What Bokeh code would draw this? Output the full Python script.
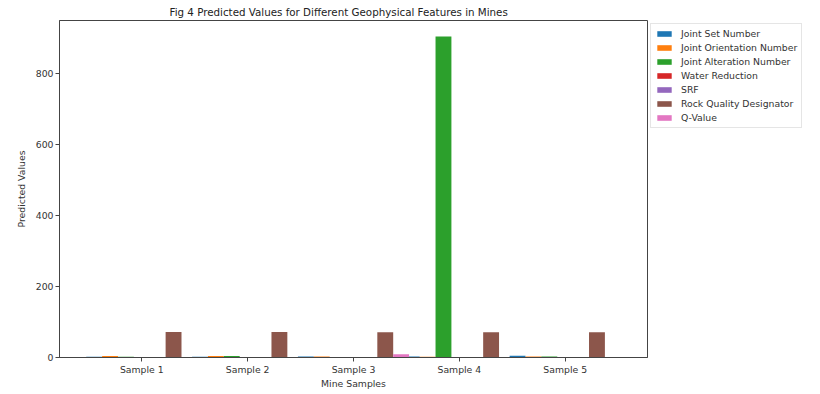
from bokeh.plotting import figure
from bokeh.models import (ColumnDataSource, FactorRange, Range1d, Legend, LegendItem)
from bokeh.transform import dodge
from bokeh.embed import file_html
from bokeh.resources import INLINE

samples = ["Sample 1", "Sample 2", "Sample 3", "Sample 4", "Sample 5"]
joint_set_number = [2.0, 2.0, 3.0, 3.0, 5.0]
joint_orientation_number = [4.0, 4.0, 3.0, 2.0, 3.0]
joint_alteration_number = [2.0, 4.0, 1.5, 903.0, 3.0]
water_reduction = [0.5, 0.5, 1.5, 1.0, 0.5]
srf = [1.0, 1.5, 1.5, 1.5, 1.5]
rock_quality_designator = [72.0, 72.0, 71.0, 71.0, 71.0]
q_value = [1.0, 1.5, 9.0, 1.5, 0.3]

series_names = ["Joint Set Number", "Joint Orientation Number", "Joint Alteration Number",
                "Water Reduction", "SRF", "Rock Quality Designator", "Q-Value"]
series_values = [joint_set_number, joint_orientation_number, joint_alteration_number,
                 water_reduction, srf, rock_quality_designator, q_value]
colors = ["#1f77b4", "#ff7f0e", "#2ca02c", "#d62728", "#9467bd", "#8c564b", "#e377c2"]

bar_w = 0.15
ymax = max(max(v) for v in series_values) * 1.05

data = {"sample": samples}
for i, v in enumerate(series_values):
    data[f"s{i}"] = v
source = ColumnDataSource(data)

FONT = "DejaVu Sans"
p = figure(x_range=FactorRange(*samples, range_padding=0.111),
           y_range=Range1d(0, ymax),
           frame_width=588, frame_height=337,
           output_backend="svg", toolbar_location=None,
           title="Fig 4 Predicted Values for Different Geophysical Features in Mines",
           min_border_left=59, min_border_top=0, min_border_bottom=0, min_border_right=0)

items = []
for i, (name, col) in enumerate(zip(series_names, colors)):
    r = p.vbar(x=dodge("sample", (i - 3) * bar_w, range=p.x_range), top=f"s{i}",
               width=bar_w, source=source, fill_color=col, line_color=None)
    items.append(LegendItem(label=name, renderers=[r]))

p.title.text_font = FONT
p.title.text_font_size = "10.3px"
p.title.text_font_style = "normal"
p.title.text_color = "#222222"
p.title.align = "left"
p.title.offset = 110
p.title.standoff = 6

p.xgrid.visible = False
p.ygrid.visible = False
p.outline_line_color = "#444444"
p.outline_line_width = 1

for ax in (p.xaxis[0], p.yaxis[0]):
    ax.axis_line_color = "#444444"
    ax.major_tick_line_color = "#444444"
    ax.minor_tick_line_color = None
    ax.major_tick_in = 0
    ax.major_tick_out = 4
    ax.major_label_text_font = FONT
    ax.major_label_text_font_size = "9.3px"
    ax.major_label_text_color = "#333333"
    ax.axis_label_text_font = FONT
    ax.axis_label_text_font_size = "9.3px"
    ax.axis_label_text_font_style = "normal"
    ax.axis_label_text_color = "#333333"
    ax.major_label_standoff = 2

p.xaxis.axis_label = "Mine Samples"
p.yaxis.axis_label = "Predicted Values"
p.xaxis.axis_label_standoff = 0
p.yaxis.axis_label_standoff = 6
p.xaxis.group_text_font_size = "0px"
p.x_range.group_padding = 0
p.yaxis.ticker = [0, 200, 400, 600, 800]

legend = Legend(items=items, location="top_left")
legend.label_text_font = FONT
legend.label_text_font_size = "9.3px"
legend.label_text_color = "#333333"
legend.glyph_width = 18
legend.glyph_height = 7
legend.label_height = 10
legend.label_standoff = 8
legend.spacing = 3
legend.padding = 4
legend.margin = 3
legend.border_line_color = "#cccccc"
legend.border_line_width = 1
legend.background_fill_alpha = 1.0
p.add_layout(legend, "right")

open("out.html", "w").write(file_html(p, INLINE))
